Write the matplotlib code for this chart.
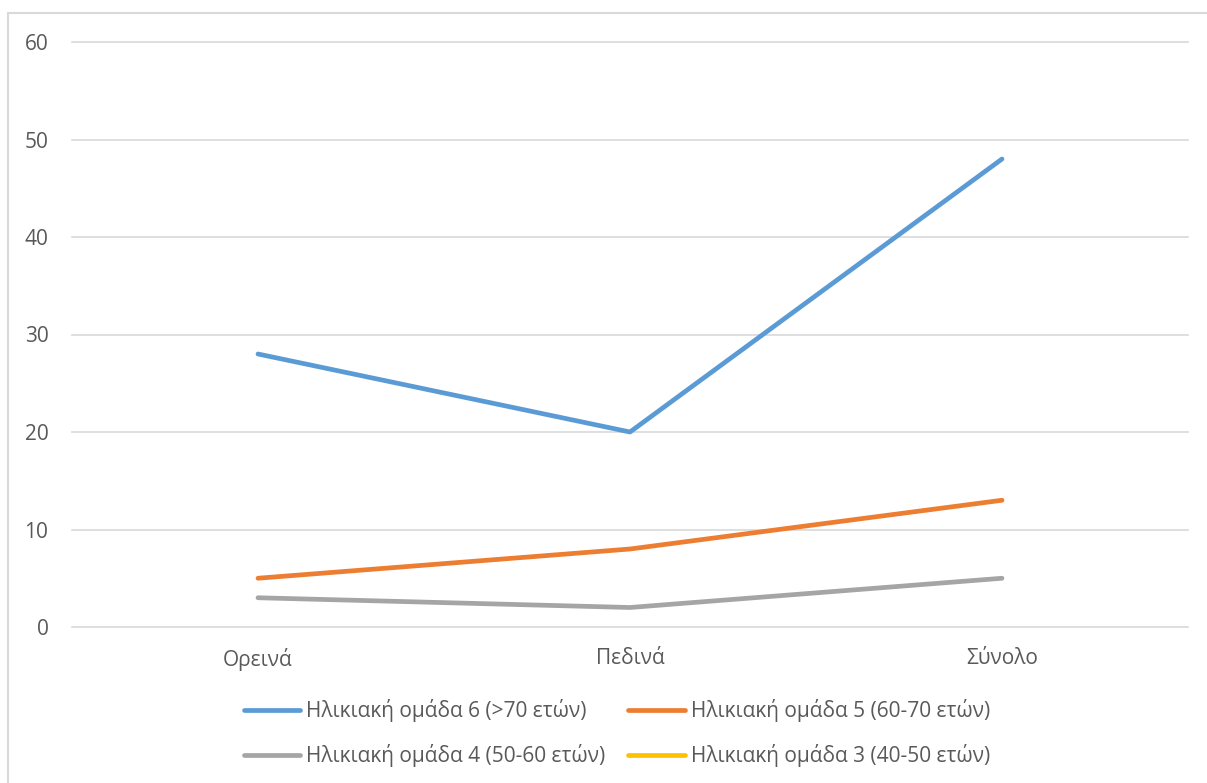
import numpy as np
import matplotlib
matplotlib.use("Agg")
import matplotlib.pyplot as plt
from matplotlib.patches import Rectangle

plt.rcParams['font.family'] = ['Open Sans', 'DejaVu Sans']

katigories = ["Ορεινά", "Πεδινά", "Σύνολο"]
omada6 = [28, 20, 48]
omada5 = [5, 8, 13]
omada4 = [3, 2, 5]
omada3 = [np.nan, np.nan, np.nan]  # χωρίς τιμές
onomata = ["Ηλικιακή ομάδα 6 (>70 ετών)", "Ηλικιακή ομάδα 5 (60-70 ετών)",
           "Ηλικιακή ομάδα 4 (50-60 ετών)", "Ηλικιακή ομάδα 3 (40-50 ετών)"]
xromata = ["#5B9BD5", "#ED7D31", "#A5A5A5", "#FFC000"]

W, H = 1207, 783
fig = plt.figure(figsize=(W / 100, H / 100), dpi=100)
fig.patches.append(Rectangle((8 / W, -0.05), 1.1, (H - 13) / H + 0.05, transform=fig.transFigure,
                             fill=False, edgecolor="#D9D9D9", linewidth=1.5))

ax = fig.add_axes([72 / W, (H - 627) / H, (1188 - 72) / W, (627 - 42) / H])
x = np.arange(len(katigories))
grammes = []
for seira, onoma, xr in zip([omada6, omada5, omada4, omada3], onomata, xromata):
    l, = ax.plot(x, seira, color=xr, linewidth=3.4, solid_capstyle="round", label=onoma, zorder=3)
    grammes.append(l)

ax.set_xlim(-0.5, 2.5)
ax.set_ylim(0, 60)
ax.set_yticks(range(0, 61, 10))
ax.set_xticks(x)
ax.set_xticklabels(katigories)
for y in range(0, 61, 10):
    ax.axhline(y, color="#D9D9D9", linewidth=1.2, clip_on=False, zorder=1)
for s in ax.spines.values():
    s.set_visible(False)
ax.tick_params(length=0, labelsize=15, colors="#595959")
ax.tick_params(axis="y", pad=17)
ax.tick_params(axis="x", pad=15)

# σειρά ώστε να γεμίζουν οι γραμμές 6,5 / 4,3
seira_leg = [0, 2, 1, 3]
fig.legend([grammes[i] for i in seira_leg], [onomata[i] for i in seira_leg],
           ncol=2, loc="center", bbox_to_anchor=(617 / W, (H - 733) / H),
           frameon=False, fontsize=15, handlelength=2.7, handletextpad=0.3,
           columnspacing=1.1, labelspacing=1.05, labelcolor="#595959")

fig.savefig("out.png", dpi=100)
